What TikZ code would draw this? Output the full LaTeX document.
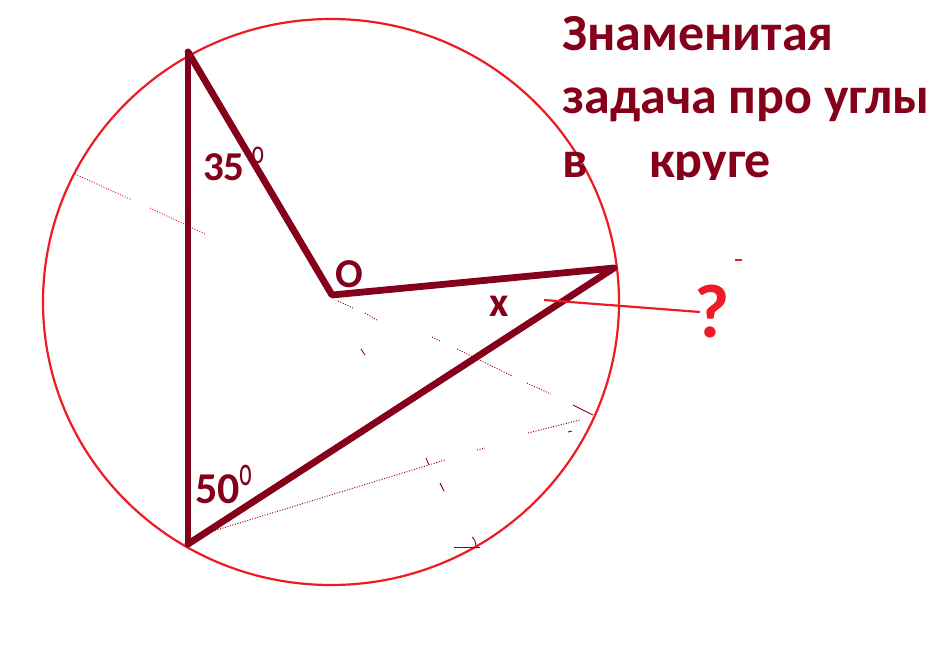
\documentclass[tikz,border=0pt]{standalone}
\usepackage{fontspec}
\setmainfont{Carlito}
\definecolor{dred}{HTML}{85001A}
\definecolor{pred}{HTML}{ED1C24}
\tikzset{
  thick line/.style={draw=dred, line width=6.8pt, line join=round, line cap=round},
  thin red/.style={draw=pred, line width=2.2pt},
  dotline/.style={draw=#1, line width=0.9pt, dash pattern=on 1pt off 1.6pt},
  tick/.style={draw=dred, line width=0.9pt},
  lbl/.style={inner sep=0pt, text=dred, font=\bfseries},
  title/.style={inner sep=0pt, text=dred, anchor=base west, font=\fontsize{52}{52}\selectfont\bfseries},
  deg/.style={inner sep=0pt, text=dred}
}
\begin{document}
\begin{tikzpicture}[x=1pt,y=-1pt]
\useasboundingbox (0,0) rectangle (952,665);
% circle
\draw[thin red] (331,302) ellipse [x radius=288, y radius=283];
% faint construction remnants
\draw[dotline=pred] (75,174) -- (132,200);
\draw[dotline=pred] (150,208) -- (205,234);
\draw[dotline=dred] (338,301) -- (353,308);
\draw[dotline=dred] (365,313) -- (377,320);
\draw[dotline=dred] (432,337) -- (440,341);
\draw[dotline=dred] (457,349) -- (512,376);
\draw[dotline=dred] (527,383) -- (551,394);
\draw[tick] (573,405) -- (593,415);
\draw[dotline=dred] (210,532) -- (445,460);
\draw[dotline=dred] (477,450) -- (485,448);
\draw[dotline=dred] (528,433) -- (580,420);
\draw[tick] (568,432) -- (572,431);
\draw[tick] (361,349) -- (365,355);
\draw[tick] (426,458) -- (429,465);
\draw[tick] (440,483) -- (444,491);
\draw[tick] (472,537) .. controls (475,540) .. (476,546);
\draw[tick] (454,547) -- (480,547);
\draw[pred, line width=2pt] (735,260) -- (742,260);
% points
\coordinate (A) at (188,52);
\coordinate (O) at (332,295);
\coordinate (B) at (614,268);
\coordinate (C) at (188,544);
% triangle and radii
\draw[thick line] (A) -- (C);
\draw[thick line] (A) -- (O) -- (B) -- (C);
% labels
\node[lbl, anchor=base west, font=\fontsize{41}{41}\selectfont\bfseries] (l35) at (203,180) {35};
\node[deg, font=\fontsize{34}{34}\selectfont, xscale=0.7] (d35) at (258,155) {o};
\node[lbl, anchor=base west, font=\fontsize{44}{44}\selectfont\bfseries] (l50) at (195,503) {50};
\node[deg, font=\fontsize{42}{42}\selectfont, xscale=0.58] (d50) at (246,475) {o};
\node[lbl, anchor=base west, font=\fontsize{41}{41}\selectfont\bfseries] (lO) at (335,287) {O};
\node[lbl, anchor=base west, font=\fontsize{42}{42}\selectfont\bfseries] (lx) at (489,316) {x};
\node[inner sep=0pt, text=pred, anchor=base west, font=\fontsize{76}{76}\selectfont\bfseries] (q) at (694,337) {?};
% pointer
\coordinate (pstart) at (544,300);
\coordinate (pend) at (700,312);
\draw[thin red] (pstart) -- (pend);
% title
\node[title] (t1) at (562,50) {Знаменитая};
\node[title] (t2) at (562,113) {задача про углы};
\begin{scope}
\clip (540,120) rectangle (900,179);
\node[title] (t3) at (562,177) {в};
\node[title] (t4) at (649,177) {круге};
\end{scope}
\end{tikzpicture}
\end{document}
